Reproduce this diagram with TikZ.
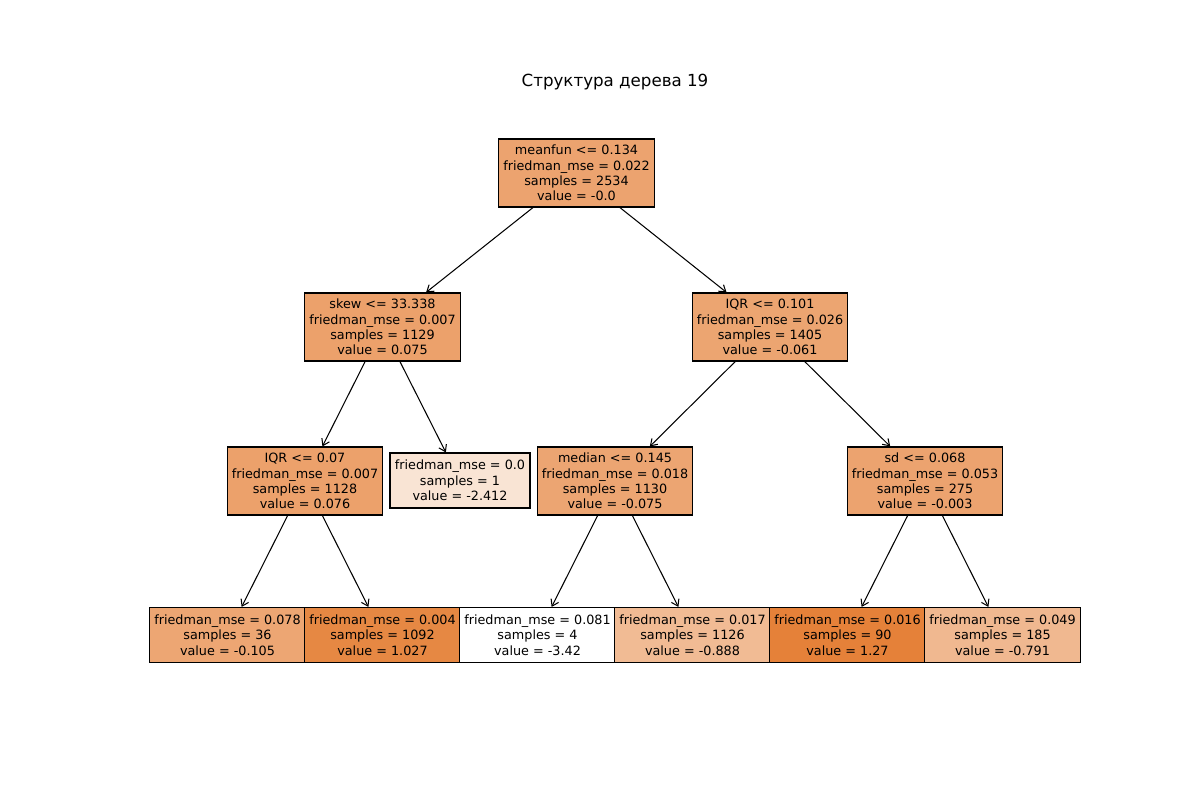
\documentclass[tikz,border=0pt]{standalone}
\usepackage{fontspec}
\setmainfont{DejaVu Sans}
\usetikzlibrary{arrows.meta}
\definecolor{orng}{RGB}{229,129,57}
\tikzset{
  tbox/.style={draw=black, line width=0.8pt, align=center, inner sep=0pt,
    font=\fontsize{9.2}{11}\selectfont, minimum width=111.8pt},
  splitbox/.style={tbox, minimum height=49pt},
  leafbox/.style={tbox, minimum height=39.6pt},
  edge/.style={line width=0.75pt, -{Straight Barb[length=4.5pt,width=6pt]}}
}
\begin{document}
\begin{tikzpicture}[x=0.72pt,y=-0.72pt]
\useasboundingbox (0,0) rectangle (1200,800);
\node[font=\fontsize{12}{14}\selectfont] (title) at (615,82) {Структура дерева 19};
\node[splitbox, fill=orng!72.9!white] (n0) at (576.5,173) {meanfun <= 0.134\\friedman\_mse = 0.022\\samples = 2534\\value = -0.0};
\node[splitbox, fill=orng!74.5!white] (n1) at (382.5,327) {skew <= 33.338\\friedman\_mse = 0.007\\samples = 1129\\value = 0.075};
\node[splitbox, fill=orng!71.6!white] (n2) at (770,327) {IQR <= 0.101\\friedman\_mse = 0.026\\samples = 1405\\value = -0.061};
\node[splitbox, fill=orng!74.6!white] (n3) at (305,481) {IQR <= 0.07\\friedman\_mse = 0.007\\samples = 1128\\value = 0.076};
\node[leafbox, minimum width=100.8pt, fill=orng!21.5!white] (n4) at (460,480.5) {friedman\_mse = 0.0\\samples = 1\\value = -2.412};
\node[splitbox, fill=orng!71.3!white] (n5) at (615,481) {median <= 0.145\\friedman\_mse = 0.018\\samples = 1130\\value = -0.075};
\node[splitbox, fill=orng!72.9!white] (n6) at (925,481) {sd <= 0.068\\friedman\_mse = 0.053\\samples = 275\\value = -0.003};
\node[leafbox, fill=orng!70.7!white] (l1) at (227.5,635) {friedman\_mse = 0.078\\samples = 36\\value = -0.105};
\node[leafbox, fill=orng!94.8!white] (l2) at (382.5,635) {friedman\_mse = 0.004\\samples = 1092\\value = 1.027};
\node[leafbox, fill=white] (l3) at (537.5,635) {friedman\_mse = 0.081\\samples = 4\\value = -3.42};
\node[leafbox, fill=orng!54!white] (l4) at (692.5,635) {friedman\_mse = 0.017\\samples = 1126\\value = -0.888};
\node[leafbox, fill=orng] (l5) at (847.5,635) {friedman\_mse = 0.016\\samples = 90\\value = 1.27};
\node[leafbox, fill=orng!56.1!white] (l6) at (1002.5,635) {friedman\_mse = 0.049\\samples = 185\\value = -0.791};
\draw[edge] (n0) -- (n1);
\draw[edge] (n0) -- (n2);
\draw[edge] (n1) -- (n3);
\draw[edge] (n1) -- (n4);
\draw[edge] (n2) -- (n5);
\draw[edge] (n2) -- (n6);
\draw[edge] (n3) -- (l1);
\draw[edge] (n3) -- (l2);
\draw[edge] (n5) -- (l3);
\draw[edge] (n5) -- (l4);
\draw[edge] (n6) -- (l5);
\draw[edge] (n6) -- (l6);
\end{tikzpicture}
\end{document}
